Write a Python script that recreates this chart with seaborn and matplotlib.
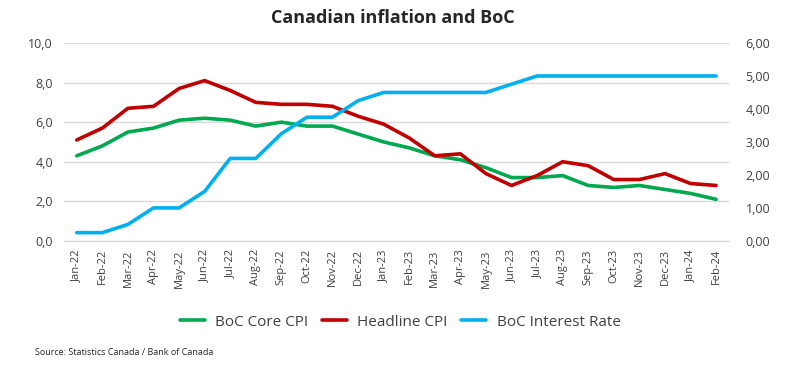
import seaborn as sns
import matplotlib.pyplot as plt
import matplotlib.ticker as mticker
import pandas as pd

months = ["Jan-22", "Feb-22", "Mar-22", "Apr-22", "May-22", "Jun-22", "Jul-22", "Aug-22",
          "Sep-22", "Oct-22", "Nov-22", "Dec-22", "Jan-23", "Feb-23", "Mar-23", "Apr-23",
          "May-23", "Jun-23", "Jul-23", "Aug-23", "Sep-23", "Oct-23", "Nov-23", "Dec-23",
          "Jan-24", "Feb-24"]
core_cpi = [4.3, 4.8, 5.5, 5.7, 6.1, 6.2, 6.1, 5.8, 6.0, 5.8, 5.8, 5.4, 5.0,
            4.7, 4.3, 4.1, 3.7, 3.2, 3.2, 3.3, 2.8, 2.7, 2.8, 2.6, 2.4, 2.1]
headline_cpi = [5.1, 5.7, 6.7, 6.8, 7.7, 8.1, 7.6, 7.0, 6.9, 6.9, 6.8, 6.3, 5.9,
                5.2, 4.3, 4.4, 3.4, 2.8, 3.3, 4.0, 3.8, 3.1, 3.1, 3.4, 2.9, 2.8]
boc_rate = [0.25, 0.25, 0.5, 1.0, 1.0, 1.5, 2.5, 2.5, 3.25, 3.75, 3.75, 4.25, 4.5,
            4.5, 4.5, 4.5, 4.5, 4.75, 5.0, 5.0, 5.0, 5.0, 5.0, 5.0, 5.0, 5.0]

df = pd.DataFrame({"month": months, "idx": range(len(months)),
                   "core": core_cpi, "headline": headline_cpi, "rate": boc_rate})

sns.set_style("white")
plt.rcParams['font.family'] = ['Open Sans', 'DejaVu Sans']

fig = plt.figure(figsize=(7.85, 3.77), dpi=100)
ax = fig.add_axes([0.0815, 0.361, 0.847, 0.525])
ax2 = ax.twinx()

green = "#00A84F"
red = "#C00000"
blue = "#00B0F0"

sns.lineplot(data=df, x="idx", y="core", ax=ax, color=green, lw=2.6, label="BoC Core CPI", legend=False)
sns.lineplot(data=df, x="idx", y="headline", ax=ax, color=red, lw=2.6, label="Headline CPI", legend=False)
sns.lineplot(data=df, x="idx", y="rate", ax=ax2, color=blue, lw=2.6, label="BoC Interest Rate", legend=False)

ax.set_ylim(0, 10)
ax2.set_ylim(0, 6)
ax.set_xlim(-0.5, len(months) - 0.5)
ax.set_yticks([0, 2, 4, 6, 8, 10])
ax2.set_yticks([0, 1, 2, 3, 4, 5, 6])
ax.yaxis.set_major_formatter(mticker.FuncFormatter(lambda v, p: f"{v:.1f}".replace(".", ",")))
ax2.yaxis.set_major_formatter(mticker.FuncFormatter(lambda v, p: f"{v:.2f}".replace(".", ",")))
ax.grid(axis="y", color="#D9D9D9", lw=1)
ax.set_axisbelow(True)

ax.set_xticks(range(len(months)))
ax.set_xticklabels(months, rotation=90, fontsize=8, color="#404040")
ax.set_xticks([i - 0.5 for i in range(len(months) + 1)], minor=True)
ax.tick_params(axis="x", which="major", length=0, pad=6)
ax.tick_params(axis="x", which="minor", length=4, color="#D9D9D9")
ax.tick_params(axis="y", length=0, labelsize=9, labelcolor="#404040", pad=8)
ax2.tick_params(axis="y", length=0, labelsize=9, labelcolor="#404040", pad=12)
ax.set_xlabel("")
ax.set_ylabel("")
ax2.set_ylabel("")

for a in (ax, ax2):
    for s in ("top", "left", "right"):
        a.spines[s].set_visible(False)
    a.spines["bottom"].set_color("#D9D9D9")

fig.suptitle("Canadian inflation and BoC", x=0.5, y=0.975, fontsize=13, fontweight="bold", color="#262626")

h1, l1 = ax.get_legend_handles_labels()
h2, l2 = ax2.get_legend_handles_labels()
fig.legend(h1 + h2, l1 + l2, loc="center", bbox_to_anchor=(0.51, 0.145), ncol=3,
           frameon=False, fontsize=11, handlelength=1.6, handletextpad=0.7,
           columnspacing=0.9, labelcolor="#404040")

fig.text(0.045, 0.058, "Source: Statistics Canada / Bank of Canada", fontsize=6.5, color="#262626")

fig.savefig("out.png", dpi=100)
